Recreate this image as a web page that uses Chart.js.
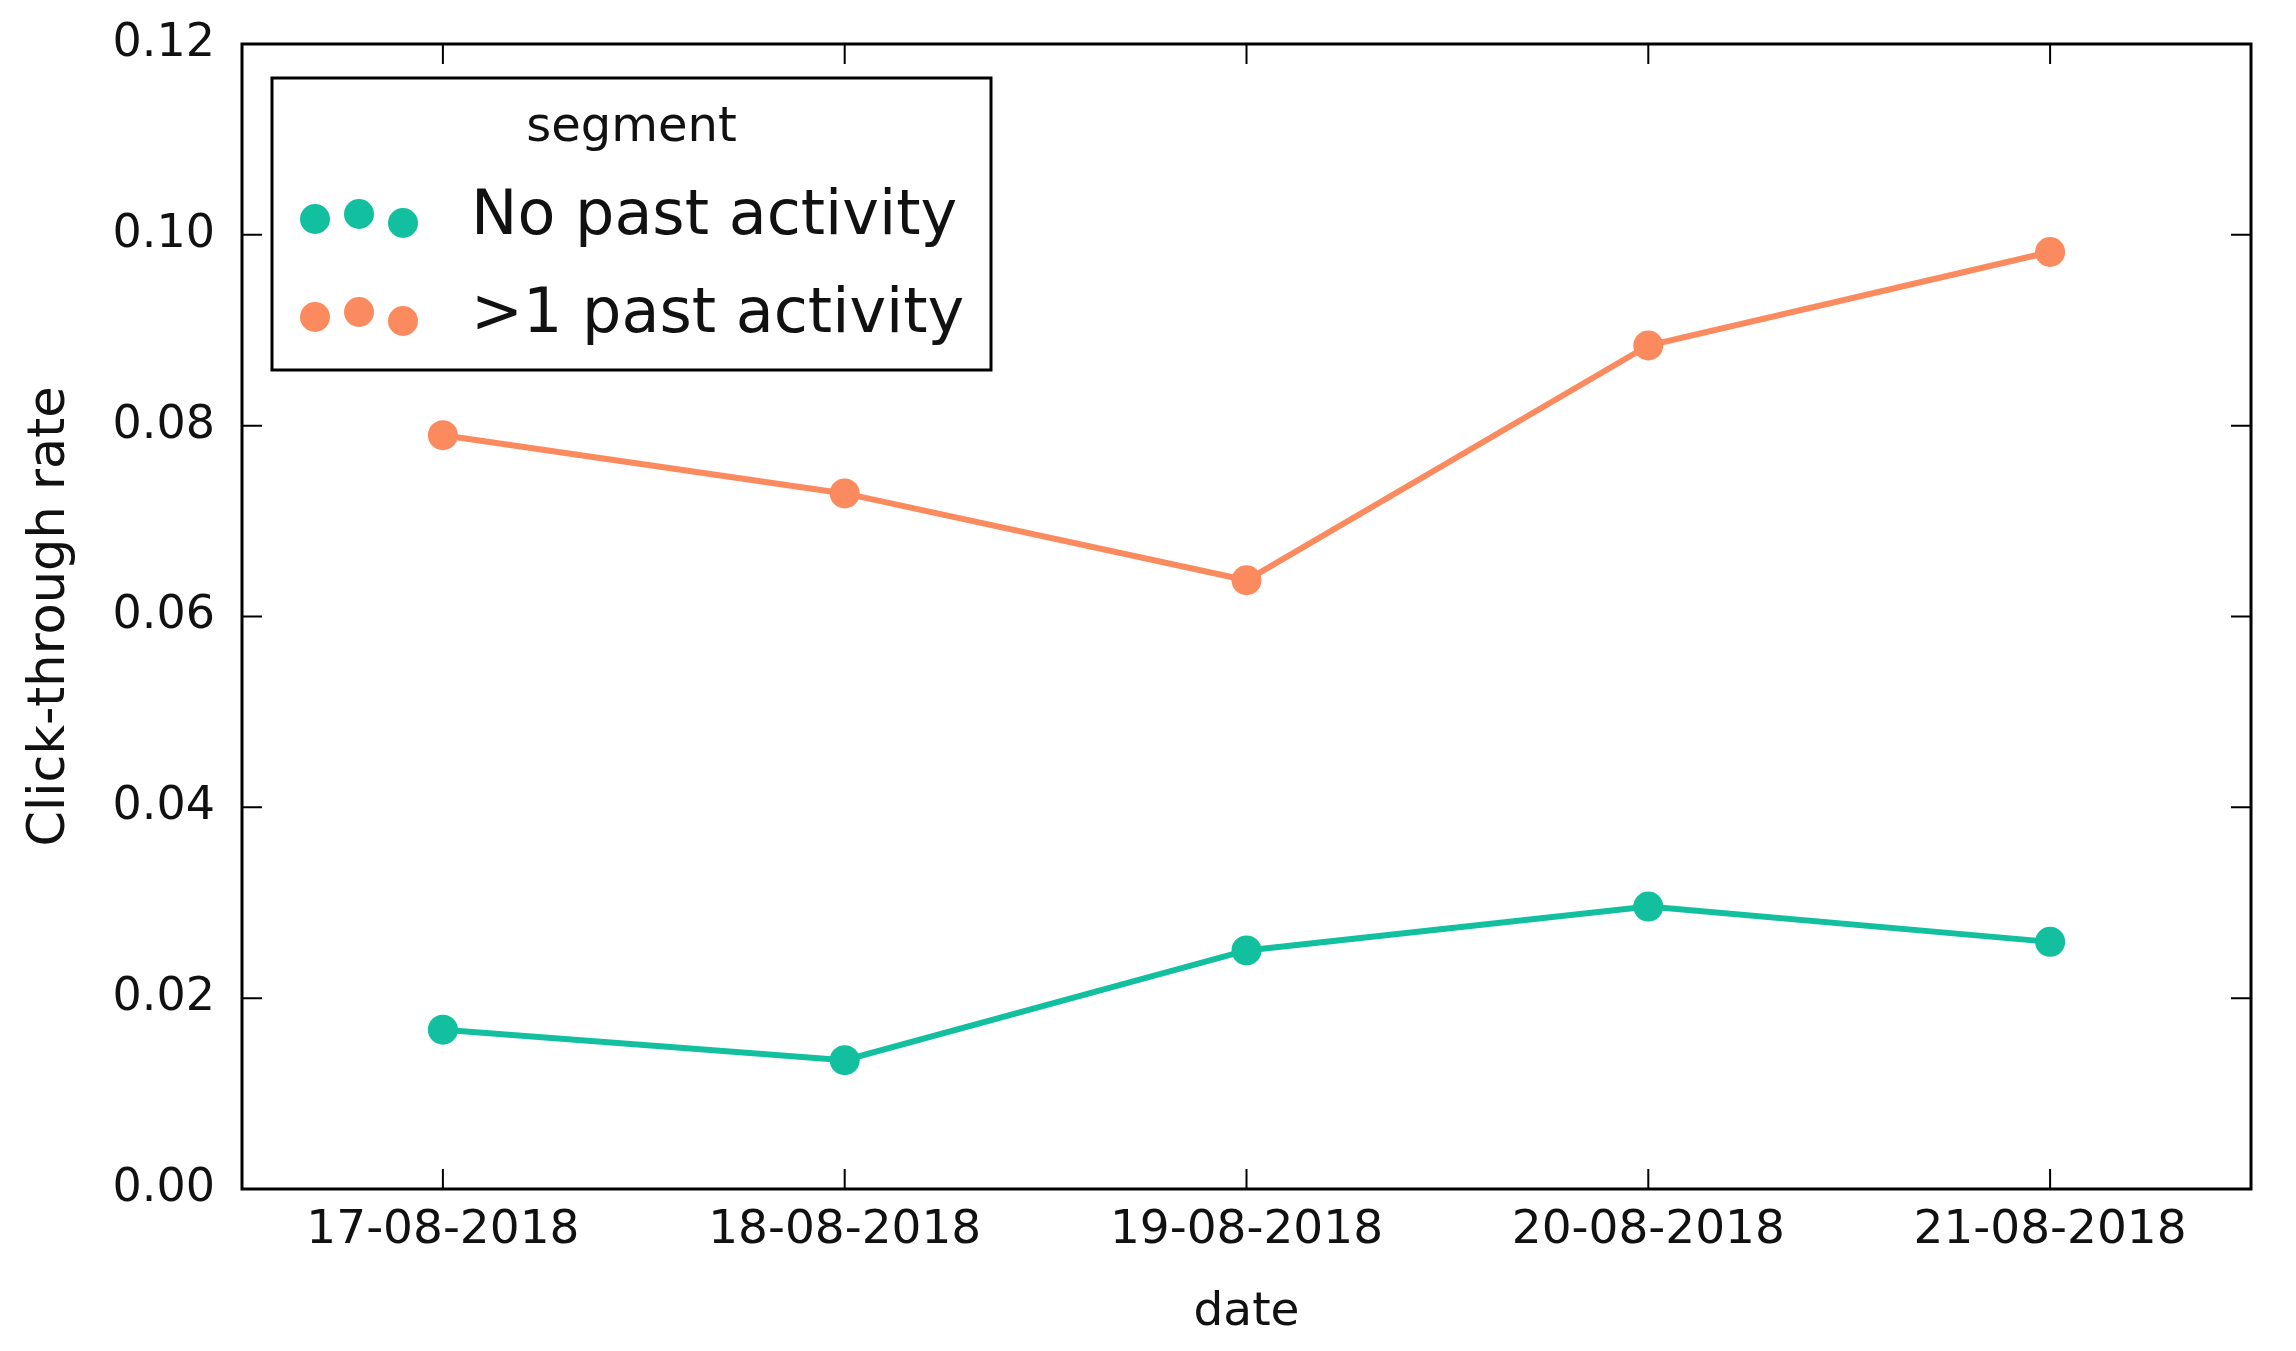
<!DOCTYPE html>
<html>
<head>
<meta charset="utf-8">
<script src="https://cdn.jsdelivr.net/npm/chart.js@4"></script>
<style>
  html, body { margin: 0; padding: 0; background: #fff; }
  #box { width: 2296px; height: 1351px; }
</style>
</head>
<body>
<div id="box"><canvas id="grafico"></canvas></div>
<script>
const datas = ['17-08-2018', '18-08-2018', '19-08-2018', '20-08-2018', '21-08-2018'];
const semAtividade = [0.0167, 0.0135, 0.0250, 0.0296, 0.0259];
const comAtividade = [0.0790, 0.0729, 0.0638, 0.0884, 0.0982];
const rotulos = ['No past activity', '>1 past activity'];
const yTicks = [0, 0.02, 0.04, 0.06, 0.08, 0.10, 0.12];

const cores = ['#12bf9e', '#fc8a5f'];
const fonte = '"DejaVu Sans", sans-serif';

// moldura, ticks para dentro e legenda no estilo matplotlib classic
const estiloMpl = {
  id: 'estiloMpl',
  afterDraw(chart) {
    const { ctx, chartArea: a, scales } = chart;
    ctx.save();
    ctx.strokeStyle = '#000';
    ctx.lineWidth = 2;
    ctx.beginPath();
    datas.forEach((d, i) => {
      const x = scales.x.getPixelForValue(i);
      ctx.moveTo(x, a.bottom); ctx.lineTo(x, a.bottom - 20);
      ctx.moveTo(x, a.top); ctx.lineTo(x, a.top + 20);
    });
    yTicks.forEach(v => {
      const y = scales.y.getPixelForValue(v);
      ctx.moveTo(a.left, y); ctx.lineTo(a.left + 20, y);
      ctx.moveTo(a.right, y); ctx.lineTo(a.right - 20, y);
    });
    ctx.stroke();
    ctx.lineWidth = 3;
    ctx.strokeRect(a.left, a.top, a.right - a.left, a.bottom - a.top);

    // legenda
    const lx = a.left + 30, ly = a.top + 34, lw = 719, lh = 292;
    ctx.fillStyle = '#fff';
    ctx.fillRect(lx, ly, lw, lh);
    ctx.lineWidth = 3;
    ctx.strokeRect(lx, ly, lw, lh);
    ctx.fillStyle = '#111';
    ctx.textBaseline = 'middle';
    ctx.textAlign = 'center';
    ctx.font = '48px ' + fonte;
    ctx.fillText('segment', lx + lw / 2, ly + 51);
    ctx.textAlign = 'left';
    ctx.font = '62px ' + fonte;
    const jitter = [-1, -6, 3];
    chart.data.datasets.forEach((ds, i) => {
      const cy = ly + 142 + i * 98;
      ctx.fillStyle = ds.backgroundColor;
      jitter.forEach((j, k) => {
        ctx.beginPath();
        ctx.arc(lx + 43 + k * 44, cy + j, 15, 0, Math.PI * 2);
        ctx.fill();
      });
      ctx.fillStyle = '#111';
      ctx.fillText(ds.label, lx + 199, cy - 2);
    });
    ctx.restore();
  }
};

new Chart(document.getElementById('grafico'), {
  type: 'line',
  data: {
    labels: datas,
    datasets: [
      {
        label: rotulos[0],
        data: semAtividade,
        borderColor: cores[0],
        backgroundColor: cores[0],
        borderWidth: 6,
        pointRadius: 15,
        pointBorderWidth: 0,
        tension: 0
      },
      {
        label: rotulos[1],
        data: comAtividade,
        borderColor: cores[1],
        backgroundColor: cores[1],
        borderWidth: 6,
        pointRadius: 15,
        pointBorderWidth: 0,
        tension: 0
      }
    ]
  },
  options: {
    responsive: true,
    maintainAspectRatio: false,
    animation: false,
    layout: { padding: { top: 44, right: 45, left: 0, bottom: 6 } },
    plugins: {
      legend: { display: false },
      tooltip: { enabled: false }
    },
    scales: {
      x: {
        offset: true,
        grid: { display: false, drawTicks: false },
        border: { display: false },
        ticks: {
          padding: 14,
          color: '#111',
          font: { family: fonte, size: 47 },
          maxRotation: 0
        },
        title: {
          display: true,
          text: 'date',
          color: '#111',
          font: { family: fonte, size: 47 },
          padding: { top: 0 }
        },
        afterFit: s => { s.height = 156; }
      },
      y: {
        min: 0,
        max: 0.12,
        grid: { display: false, drawTicks: false },
        border: { display: false },
        ticks: {
          stepSize: 0.02,
          padding: 27,
          color: '#111',
          font: { family: fonte, size: 46 },
          callback: v => v.toFixed(2)
        },
        title: {
          display: true,
          text: 'Click-through rate',
          color: '#111',
          font: { family: fonte, size: 51 },
          padding: { bottom: 0, top: 20 }
        },
        afterFit: s => {
          s.width = 242;
          s.paddingTop = 0;
          s.paddingBottom = 0;
        }
      }
    }
  },
  plugins: [estiloMpl]
});
</script>
</body>
</html>
